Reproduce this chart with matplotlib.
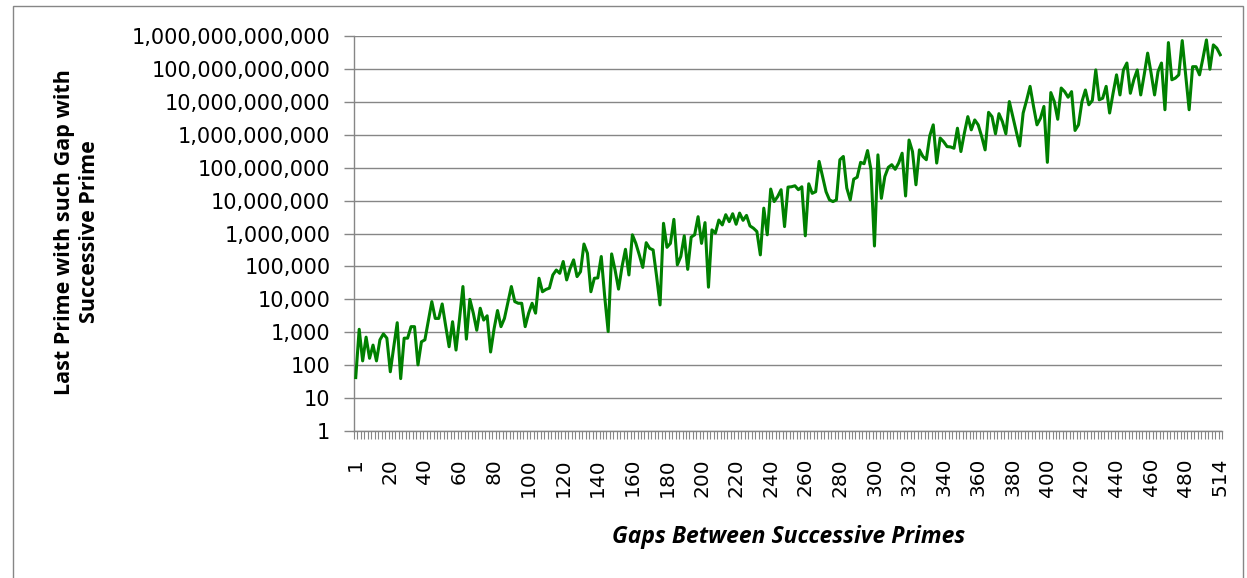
import matplotlib
matplotlib.use("Agg")
import matplotlib.pyplot as plt
from matplotlib.ticker import FixedLocator, FuncFormatter, NullLocator, NullFormatter
from matplotlib.patches import Rectangle

# ---- data ----
gaps = [1] + list(range(2, 481, 2)) + [482, 486, 490, 492, 496, 500, 504, 506, 510, 514]

last_prime = [
    42, 1230, 135, 710, 162, 407, 135, 589, 891, 661,
    63, 363, 1950, 39, 661, 661, 1480, 1480, 102, 513,
    589, 2240, 8510, 2630, 2630, 7240, 1580, 363, 2090, 288,
    2510, 24500, 617, 10000, 3800, 1150, 5370, 2340, 3160, 251,
    1260, 4570, 1480, 2630, 7940, 24500, 8510, 7590, 7590, 1480,
    3800, 7590, 3800, 43700, 17000, 20000, 21900, 55000, 77600, 61700,
    141000, 38900, 87100, 158000, 49000, 69200, 479000, 251000, 17000, 43700,
    44700, 200000, 12000, 1050, 240000, 77600, 20400, 97700, 331000, 55000,
    912000, 501000, 224000, 93300, 525000, 355000, 316000, 50100, 6760, 2040000,
    380000, 501000, 2690000, 112000, 200000, 851000, 81300, 776000, 912000, 3240000,
    501000, 2140000, 23400, 1290000, 1020000, 2570000, 1820000, 3720000, 2290000, 3980000,
    1910000, 4170000, 2510000, 3550000, 1700000, 1450000, 1150000, 224000, 5890000, 912000,
    22400000, 9330000, 13200000, 21400000, 1620000, 25700000, 26300000, 28200000, 21400000, 26300000,
    851000, 32400000, 16600000, 18600000, 155000000, 53700000, 18600000, 10500000, 9330000, 10500000,
    174000000, 219000000, 24000000, 10500000, 44700000, 51300000, 145000000, 132000000, 331000000, 85100000,
    417000, 245000000, 11700000, 53700000, 102000000, 123000000, 89100000, 138000000, 275000000, 13800000,
    692000000, 309000000, 30200000, 347000000, 219000000, 174000000, 933000000, 2.00e9, 1.38e8, 7.94e8,
    6.17e8, 4.37e8, 4.27e8, 3.89e8, 1.58e9, 3.09e8, 1.12e9, 3.55e9, 1.41e9, 2.82e9,
    2.00e9, 8.91e8, 3.47e8, 4.79e9, 3.55e9, 1.07e9, 4.37e9, 2.51e9, 1.07e9, 1.02e10,
    3.55e9, 1.26e9, 4.57e8, 4.57e9, 1.12e10, 2.95e10, 7.24e9, 2.00e9, 3.16e9, 7.24e9,
    1.45e8, 1.91e10, 1.02e10, 2.95e9, 2.63e10, 2.04e10, 1.38e10, 2.04e10, 1.35e9, 2.00e9,
    1.02e10, 2.29e10, 8.13e9, 1.10e10, 9.33e10, 1.15e10, 1.29e10, 2.95e10, 4.57e9, 1.82e10,
    6.61e10, 1.62e10, 9.33e10, 1.51e11, 1.82e10, 4.68e10, 9.33e10, 1.62e10, 6.61e10, 3.02e11,
    7.41e10, 1.62e10, 8.32e10, 1.51e11, 5.75e9, 6.31e11, 4.68e10, 5.25e10, 6.61e10, 7.24e11,
    6.31e10, 5.75e9, 1.17e11, 1.17e11, 6.61e10, 2.14e11, 7.59e11, 9.77e10, 5.37e11, 4.27e11,
    2.69e11,
]

y_ticks = [1, 10, 100, 1e3, 1e4, 1e5, 1e6, 1e7, 1e8, 1e9, 1e10, 1e11, 1e12]
label_every = 10

x_title = "Gaps Between Successive Primes"
y_title = "Last Prime with such Gap with\nSuccessive Prime"

# ---- styling ----
W, H = 1247, 578
GRID = "#868686"
LINE = "#008000"

fig = plt.figure(figsize=(W / 100, H / 100), dpi=100)
fig.patch.set_facecolor("white")

left, right, top, bottom = 354 / W, 1222 / W, 1 - 36 / H, 1 - 431 / H
ax = fig.add_axes([left, bottom, right - left, top - bottom])

n = len(gaps)
xs = list(range(n))
ax.plot(xs, last_prime, color=LINE, lw=2.2, solid_joinstyle="round", zorder=3)

ax.set_yscale("log")
ax.set_ylim(1, 1e12)
ax.set_xlim(-0.5, n - 0.5)

ax.yaxis.set_major_locator(FixedLocator(y_ticks))
ax.yaxis.set_minor_locator(NullLocator())
ax.yaxis.set_major_formatter(FuncFormatter(lambda v, p: f"{v:,.0f}"))
ax.yaxis.grid(True, color=GRID, lw=1.0, zorder=1)
ax.set_axisbelow(True)
ax.tick_params(axis="y", which="major", length=7, width=1.0, color=GRID, pad=10,
               labelsize=15, labelcolor="black")
for lab in ax.get_yticklabels():
    lab.set_fontfamily("DejaVu Sans")

# category axis: a tick mark between every category, a label every 10th category
ax.xaxis.set_major_locator(NullLocator())
ax.xaxis.set_minor_locator(FixedLocator([k - 0.5 for k in range(n + 1)]))
ax.xaxis.set_minor_formatter(NullFormatter())
ax.tick_params(axis="x", which="minor", length=6, width=0.8, color=GRID, direction="out")

label_top = 1 - 458 / H  # top edge of the rotated category labels (figure fraction)
to_fig = fig.transFigure.inverted()
for i in range(0, n, label_every):
    xd, _ = ax.transData.transform((i, 1))
    xf, _ = to_fig.transform((xd, 0))
    fig.text(xf, label_top, str(gaps[i]), rotation="vertical", rotation_mode="default",
             ha="center", va="top", fontsize=14.5,
             family=["DejaVu Sans", "Open Sans"], color="black")

for s in ("top", "right"):
    ax.spines[s].set_visible(False)
for s in ("left", "bottom"):
    ax.spines[s].set_color(GRID)
    ax.spines[s].set_linewidth(1.0)

fig.text(77 / W, 1 - 232 / H, y_title, rotation=90, ha="center", va="center",
         multialignment="center", fontsize=15.5, fontweight="bold",
         family=["Open Sans", "DejaVu Sans"], linespacing=1.3)
fig.text(789 / W, 1 - 537 / H, x_title, ha="center", va="center",
         fontsize=16.5, fontweight="bold", fontstyle="italic",
         family=["Open Sans", "DejaVu Sans"])

fig.add_artist(Rectangle((12.5 / W, -0.05), (1243 - 12.5) / W, 1.05 - 6.5 / H,
                         transform=fig.transFigure, fill=False, ec=GRID, lw=1.0))

fig.savefig("out.png", dpi=100, facecolor="white")
